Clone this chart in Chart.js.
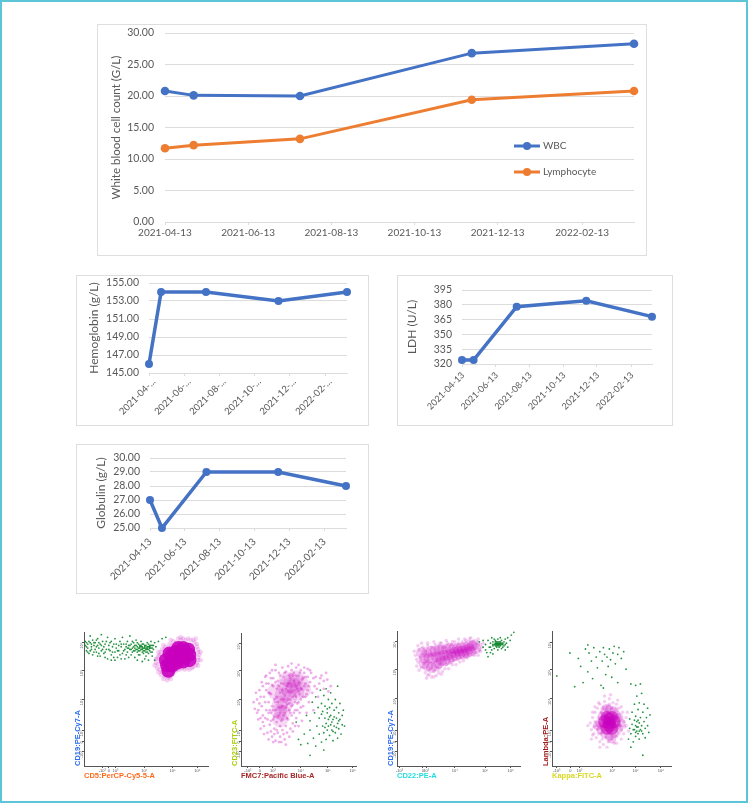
<!DOCTYPE html>
<html>
<head>
<meta charset="utf-8">
<title>Blood counts and flow cytometry</title>
<script src="https://cdn.jsdelivr.net/npm/chart.js@4/dist/chart.umd.min.js"></script>
<style>
  html, body { margin: 0; padding: 0; background: #fff; }
  #page { position: relative; width: 744px; height: 799px; border: 2px solid #5cc6d8; overflow: hidden; }
  .box { position: absolute; border: 1px solid #dedede; box-sizing: border-box; }
  .box canvas { display: block; filter: blur(0.35px); }
  .dot { position: absolute; }
  .dot canvas { display: block; filter: blur(0.3px); }
</style>
</head>
<body>
<div id="page"></div>
<script>
// Fechas de las visitas y ejes
const visitDates = ['2021-04-13', '2021-05-04', '2021-07-21', '2021-11-24', '2022-03-23'];
const dateTicks = ['2021-04-13', '2021-06-13', '2021-08-13', '2021-10-13', '2021-12-13', '2022-02-13'];

const wbcValues = [20.8, 20.1, 20.0, 26.8, 28.3];
const lymphocyteValues = [11.7, 12.2, 13.2, 19.4, 20.8];
const countTicks = [0, 5, 10, 15, 20, 25, 30];

const hemoglobinValues = [146, 154, 154, 153, 154];
const hemoglobinTicks = [145, 147, 149, 151, 153, 155];

const ldhValues = [324, 324, 378, 384, 368];
const ldhTicks = [320, 335, 350, 365, 380, 395];

const globulinValues = [27, 25, 29, 29, 28];
const globulinTicks = [25, 26, 27, 28, 29, 30];

// Citometria: puntos leidos a ojo sobre cada panel (0-100 en cada eje)
const cytoTickLabels = ['-10³', '0', '10³', '10⁴', '10⁵', '10⁶'];
const cytoYTicks = [11, 18.5, 26.5, 50, 71.5, 92];
const plotAXTicks = [14.7, 20, 25.4, 48.7, 71.4, 91.4];
const plotBXTicks = [6, 16.4, 27.8, 52, 75.6, 97];
const plotCXTicks = [2, 21, 23.8, 47, 71.6, 92.4];
const plotDXTicks = [4, 15.3, 23, 50.5, 70, 91];

const plotAGreen = [[1,90],[2,86],[1,93],[3,91],[4,84],[3,88],[5,92],[6,89],[5,86],[7,94],[7,83],[8,90],[9,87],[9,92],[10,85],[11,90],[11,95],[12,88],[13,82],[13,91],[14,86],[15,93],[16,89],[16,84],[17,91],[18,87],[19,96],[19,80],[20,90],[21,86],[22,93],[22,83],[23,89],[24,91],[25,85],[25,95],[26,88],[27,81],[28,90],[28,86],[29,93],[30,89],[31,84],[31,96],[32,91],[33,87],[33,80],[34,89],[35,85],[35,93],[36,90],[37,87],[37,97],[38,83],[38,91],[39,88],[40,86],[40,92],[41,90],[41,81],[42,87],[42,94],[43,89],[43,85],[44,91],[44,88],[45,83],[45,90],[46,87],[46,93],[47,85],[47,89],[48,91],[48,86],[49,88],[49,80],[50,90],[50,85],[51,87],[51,92],[52,89],[52,84],[53,86],[53,90],[54,88],[54,93],[55,85],[55,90],[56,87],[57,92],[58,89],[57,79],[60,93],[63,95],[66,96],[47,78],[52,79],[5,97],[14,98],[25,79],[40,89],[42,90],[44,86],[45,88],[46,89],[47,87],[48,88],[49,90],[50,87],[51,89],[52,87],[53,88],[54,90],[38,87],[36,88],[34,91],
  [2,89],[2,92],[3,85],[4,93],[6,91],[6,87],[8,85],[8,92],[10,89],[10,94],[12,84],[12,92],[14,90],[15,87],[17,85],[18,93],[20,87],[21,92],[23,85],[24,81],[26,91],[27,86],[29,83],[30,91],[32,86],[34,83],[35,88],[37,90],[39,85],[39,93],[41,86],[43,92],[44,83],[45,86],[46,90],[47,91],[48,84],[49,86],[50,88],[51,85],[52,91],[53,88],[54,85],[55,88],[56,90],[41,88],[43,87],[45,89],[47,88],[49,89],[51,88],[53,89],[11,82],[17,81],[22,79],[30,80],[36,81],[43,79],[50,82],[55,82]];
const plotACore = [[67,75],[66,79],[69,84],[72,79],[71,75],[75,80],[74,85],[76,88],[80,88],[84,87],[85,83],[85,79],[80,78],[80,83],[75,77],[68,71],[71,83]];
const plotAHalo = [[58,77],[59,73],[60,70],[62,68],[65,67],[68,66],[71,68],[72,71],[75,72],[79,73],[83,73],[87,73],[90,75],[92,79],[93,83],[92,87],[91,91],[88,94],[84,95],[80,95],[76,95],[72,93],[69,91],[66,89],[63,87],[61,83],[59,80],[57,75],[67,64],[92,75],[94,85],[60,85],
  [58,80],[60,76],[61,72],[63,70],[66,68],[69,67],[72,69],[74,71],[77,72],[81,72],[85,72],[88,74],[91,77],[92,81],[92,85],[91,89],[89,92],[86,94],[82,94],[78,94],[74,92],[71,90],[68,88],[65,87],[62,85],[60,82],[64,65],[70,65],[94,79],[90,95],[78,96],[70,94],[64,90]];

const plotBGreen = [[48,33],[50,20],[52,16],[55,24],[57,38],[58,17],[60,27],[60,34],[62,48],[63,21],[64,40],[65,15],[65,52],[66,30],[67,44],[68,24],[68,36],[69,57],[70,18],[70,47],[71,30],[71,41],[72,53],[72,25],[73,36],[73,45],[74,20],[74,32],[74,58],[75,40],[75,27],[76,50],[76,35],[77,23],[77,44],[78,31],[78,38],[78,55],[79,27],[79,47],[80,35],[80,19],[81,42],[81,30],[82,50],[82,25],[83,36],[83,44],[84,32],[84,21],[85,40],[85,28],[86,47],[86,35],[87,24],[88,38],[88,31],[89,42],[84,60],[90,30],[72,12],[60,8],[75,43],[77,37],[79,33],[81,37],[83,29],[85,34],[73,29],[76,30],[80,26],[70,39]];
const plotBCore = [[42,57],[38,60],[46,60],[36,53],[42,52],[48,55],[52,62],[44,64],[34,47],[38,46],[33,41],[36,40],[30,56],[54,57],[40,65],[48,66],[34,35]];
const plotBHalo = [[12,43],[14,50],[15,35],[16,57],[17,28],[18,45],[18,63],[19,38],[20,52],[20,30],[21,67],[22,42],[22,57],[23,25],[23,35],[24,48],[24,62],[25,31],[25,70],[26,40],[26,54],[27,22],[27,45],[28,35],[28,60],[28,66],[29,28],[29,50],[30,19],[30,42],[30,72],[31,33],[31,58],[32,25],[32,48],[32,64],[33,38],[33,70],[34,22],[34,30],[34,55],[35,44],[35,62],[36,27],[36,35],[36,74],[37,50],[37,67],[38,20],[38,40],[39,30],[39,58],[39,71],[40,25],[40,46],[41,35],[41,62],[41,75],[42,42],[42,68],[43,28],[43,50],[44,38],[44,56],[44,72],[45,32],[45,46],[46,64],[46,70],[47,42],[47,53],[48,36],[48,60],[48,74],[49,47],[50,30],[50,56],[50,68],[51,40],[51,63],[52,50],[52,72],[53,34],[53,58],[54,45],[54,66],[55,70],[56,52],[56,62],[57,40],[58,57],[58,67],[59,48],[60,63],[61,70],[62,55],[63,42],[64,60],[65,67],[67,52],[68,62],[70,68],[72,58],[75,65],[78,60],
  [14,40],[16,47],[19,33],[21,48],[22,62],[24,40],[25,55],[26,34],[27,61],[28,42],[29,37],[30,48],[30,63],[31,27],[31,52],[32,37],[33,44],[33,60],[34,40],[34,68],[35,34],[35,50],[36,57],[36,45],[37,38],[37,62],[38,53],[38,70],[39,44],[40,60],[40,36],[41,50],[41,56],[42,47],[42,62],[43,40],[43,55],[43,66],[44,45],[44,60],[45,52],[45,68],[46,40],[46,57],[47,48],[47,62],[48,52],[48,68],[49,42],[49,58],[50,48],[50,62],[51,54],[51,70],[52,44],[52,58],[53,65],[54,52],[55,60],[56,67],[57,54],[59,60],
  [11,48],[13,55],[15,42],[17,36],[17,52],[19,60],[20,24],[21,36],[22,68],[24,20],[24,55],[25,42],[26,26],[26,66],[27,72],[28,18],[29,24],[30,76],[33,18],[35,18],[37,24],[39,16],[42,22],[45,26],[47,30],[60,72],[63,66],[66,58],[69,66],[72,64],[74,70],[76,56],[55,74],[58,73],[50,76],[44,77]];

const plotCGreen = [[70,93],[72,90],[72,86],[74,93],[75,88],[76,84],[76,91],[77,95],[78,89],[78,92],[79,87],[79,94],[80,91],[80,89],[80,93],[81,90],[81,88],[81,92],[82,91],[82,89],[82,86],[82,94],[83,90],[83,92],[83,88],[84,91],[84,89],[84,95],[85,90],[85,87],[85,93],[86,91],[86,88],[87,92],[87,89],[88,94],[88,86],[89,91],[90,95],[90,88],[92,93],[93,97],[95,99],[78,83],[74,81],[67,92],[81,91],[82,90],[83,91],[82,92],[81,89],[84,90],[80,90],[83,89],[82,90.5],[81,90.5],[83,90.5],[84,92],[80,92],[79,90],[85,91],[78,90],[86,90],[76,88],[88,90],[70,88],[73,84],[77,86]];
const plotCCore = [[20,84],[24,84],[28,85],[31,85],[34,86],[37,86],[40,86.5],[43,87],[46,87],[49,87],[52,87.5],[55,88],[58,89],[61,89],[63,90],[22,76],[25,74],[28,73],[32,74],[34,76],[36,78],[39,78],[42,79],[45,81],[48,82],[51,83],[54,83],[57,84],[60,85],[64,87],[22,80],[26,80],[29,80],[32,81],[35,81],[38,82],[41,82],[44,83],[47,84],[50,85],[53,85],[56,86],[59,87]];
const plotCHalo = [[15,82],[17,77],[18,86],[19,80],[20,73],[21,88],[22,76],[23,69],[23,85],[25,89],[26,68],[27,72],[28,66],[28,88],[30,70],[31,90],[32,67],[33,73],[34,89],[35,76],[36,91],[37,70],[38,88],[40,75],[41,91],[43,77],[44,90],[46,78],[47,92],[49,79],[50,91],[52,80],[53,92],[55,81],[56,93],[58,82],[59,94],[61,83],[62,92],[64,84],[65,91],[67,86],[68,90],[69,88],[66,82],[16,74],[14,85],[24,65],[30,66],[36,68],[42,72],[48,75],[54,78],[70,91],[60,95],[50,94],[40,93],[30,92],[20,91],[16,79],[18,71],[25,67],[34,69],[39,72],[45,75],[51,77],[57,80],[63,82],[68,85],[66,94],[55,94],[45,92],[35,91],[25,91],[17,89]];

const plotDGreen = [[15,84],[4,67],[19,59],[22,80],[24,74],[26,62],[28,87],[30,70],[31,84],[33,78],[34,65],[35,88],[37,81],[38,73],[40,85],[41,60],[42,78],[43,88],[44,83],[45,68],[46,81],[47,74],[48,87],[49,79],[50,66],[51,84],[52,89],[53,76],[55,83],[56,88],[58,80],[60,85],[62,72],[66,61],[70,60],[74,61],[55,62],[30,90],[43,58],[64,20],[65,28],[65,35],[66,24],[67,31],[67,40],[68,27],[68,18],[69,34],[69,46],[70,22],[70,30],[70,37],[71,26],[71,33],[71,52],[72,29],[72,24],[72,42],[73,32],[73,20],[73,47],[74,27],[74,36],[75,30],[75,54],[76,24],[76,40],[77,33],[77,46],[78,28],[78,21],[79,36],[80,43],[80,30],[81,25],[82,38],[76,8],[66,14],[69,27],[71,29],[73,26],[75,26],[70,25],[72,34]];
const plotDCore = [[48,32],[44,33],[52,33],[46,28],[50,28],[46,36],[50,36],[48,30],[48,35]];
const plotDMid = [[40,32],[41,27],[42,37],[44,24],[44,40],[48,22],[48,42],[52,24],[52,41],[56,28],[56,36],[58,32],[38,30],[46,43],[50,20],[54,38],[42,30],[54,30]];
const plotDHalo = [[32,32],[33,27],[34,36],[35,24],[36,40],[37,30],[37,21],[38,43],[38,27],[39,36],[40,18],[40,46],[41,24],[41,40],[42,20],[43,44],[43,16],[44,48],[45,21],[46,44],[47,18],[48,50],[48,46],[50,20],[50,43],[51,47],[52,17],[53,42],[54,22],[54,46],[55,38],[56,24],[56,43],[57,30],[57,36],[58,27],[59,40],[60,33],[60,24],[61,29],[62,36],[36,33],[35,29],[39,24],[53,23],[42,43],[52,40],[56,33],[30,30],[34,23],[36,44],[39,47],[44,52],[49,53],[55,49],[58,44],[62,30],[64,26],[63,40],[46,14],[40,14],[34,40],[33,20],[58,20],[54,17]];

const BLUE = '#4472c4';
const ORANGE = '#ed7d31';
const TEXT = '#595959';
const GRID = '#dcdcdc';
const GREEN_DOT = 'rgba(15,135,45,0.9)';
const page = document.getElementById('page');

function addCanvas(className, left, top, width, height) {
  const holder = document.createElement('div');
  holder.className = className;
  holder.style.cssText = `left:${left - 2}px;top:${top - 2}px;width:${width}px;height:${height}px`;
  const canvas = document.createElement('canvas');
  const border = className === 'box' ? 2 : 0;
  canvas.width = width - border;
  canvas.height = height - border;
  holder.appendChild(canvas);
  page.appendChild(holder);
  return canvas;
}

// Leyenda dentro del area de trazado, como en el original
const insideLegend = {
  id: 'insideLegend',
  afterDatasetsDraw(chart, args, opts) {
    const ctx = chart.ctx;
    chart.data.datasets.forEach((ds, i) => {
      const y = opts.y[i];
      ctx.save();
      ctx.strokeStyle = ctx.fillStyle = ds.borderColor;
      ctx.lineWidth = 3;
      ctx.beginPath();
      ctx.moveTo(opts.x, y);
      ctx.lineTo(opts.x + 26, y);
      ctx.stroke();
      ctx.beginPath();
      ctx.arc(opts.x + 13, y, 4, 0, Math.PI * 2);
      ctx.fill();
      ctx.fillStyle = TEXT;
      ctx.font = '10px Lato';
      ctx.textBaseline = 'middle';
      ctx.fillText(ds.label, opts.x + 29, y);
      ctx.restore();
    });
  }
};

// Nube difuminada sin tocar ejes ni textos
const softCloud = {
  id: 'softCloud',
  beforeDatasetsDraw(chart) {
    chart.ctx.save();
    chart.ctx.filter = 'blur(0.6px)';
  },
  afterDatasetsDraw(chart) {
    chart.ctx.restore();
  }
};

function lineChart(o) {
  const canvas = addCanvas('box', o.box[0], o.box[1], o.box[2], o.box[3]);
  const xTicks = dateTicks.map(d => Date.parse(d));
  const times = visitDates.map(d => Date.parse(d));
  new Chart(canvas, {
    type: 'line',
    plugins: o.legend ? [insideLegend] : [],
    data: {
      datasets: o.series.map(s => ({
        label: s.label,
        data: s.values.map((v, i) => ({ x: times[i], y: v })),
        borderColor: s.color,
        backgroundColor: s.color,
        borderWidth: o.stroke,
        pointRadius: o.radius,
        pointBorderWidth: 0,
        tension: 0,
        clip: false
      }))
    },
    options: {
      responsive: false,
      animation: false,
      devicePixelRatio: 1,
      layout: { padding: { top: o.plotTop, right: o.plotRight } },
      plugins: { legend: { display: false }, tooltip: { enabled: false }, insideLegend: o.legend },
      scales: {
        x: {
          type: 'linear',
          min: times[0],
          max: times[times.length - 1],
          afterBuildTicks: s => { s.ticks = xTicks.map(v => ({ value: v })); },
          afterFit: s => { s.height = o.plotBottom; s.paddingLeft = 0; s.paddingRight = 0; },
          grid: { drawOnChartArea: false, color: GRID, tickLength: 3 },
          border: { color: GRID },
          ticks: {
            autoSkip: false,
            padding: o.xPad,
            labelOffset: o.xShift,
            color: TEXT,
            font: { family: 'Lato', size: o.xFont },
            minRotation: o.rotation,
            maxRotation: o.rotation,
            callback: (v, i) => o.cut ? dateTicks[i].slice(0, 8) + '...' : dateTicks[i]
          }
        },
        y: {
          min: o.yTicks[0],
          max: o.yTicks[o.yTicks.length - 1],
          afterBuildTicks: s => { s.ticks = o.yTicks.map(v => ({ value: v })); },
          afterFit: s => { s.width = o.plotLeft; s.paddingTop = 0; s.paddingBottom = 0; },
          grid: { color: GRID, drawTicks: false },
          border: { display: false },
          ticks: {
            autoSkip: false,
            padding: o.yPad,
            color: TEXT,
            font: { family: 'Lato', size: o.yFont },
            callback: v => v.toFixed(o.decimals)
          },
          title: {
            display: true,
            text: o.title,
            color: TEXT,
            font: { family: 'Lato', size: o.titleFont },
            padding: { top: o.titlePad, bottom: 0 }
          }
        }
      }
    }
  });
}

lineChart({
  box: [97, 24, 550, 232],
  series: [
    { label: 'WBC', values: wbcValues, color: BLUE },
    { label: 'Lymphocyte', values: lymphocyteValues, color: ORANGE }
  ],
  yTicks: countTicks, decimals: 2, title: 'White blood cell count (G/L)',
  plotLeft: 67, plotTop: 8, plotRight: 12, plotBottom: 33, stroke: 3,
  radius: 4.3, rotation: 0, xShift: 0, xFont: 10, yFont: 10.5, titleFont: 11.6, titlePad: 11, xPad: 2, yPad: 11,
  legend: { x: 416, y: [121, 147] }
});
lineChart({
  box: [76, 275, 293, 151],
  series: [{ label: 'Hemoglobin', values: hemoglobinValues, color: BLUE }],
  yTicks: hemoglobinTicks, decimals: 2, title: 'Hemoglobin (g/L)',
  plotLeft: 72, plotTop: 7, plotRight: 21, plotBottom: 52, stroke: 3.5,
  radius: 4, rotation: 45, cut: true, xShift: 5, xFont: 9.5, yFont: 10.5, titleFont: 12, titlePad: 10, xPad: 0, yPad: 10
});
lineChart({
  box: [397, 275, 276, 151],
  series: [{ label: 'LDH', values: ldhValues, color: BLUE }],
  yTicks: ldhTicks, decimals: 0, title: 'LDH (U/L)',
  plotLeft: 64, plotTop: 14, plotRight: 20, plotBottom: 61, stroke: 3.5,
  radius: 4, rotation: 45, xShift: 1, xFont: 9, yFont: 10.5, titleFont: 12, titlePad: 7, xPad: 3, yPad: 10
});
lineChart({
  box: [76, 444, 293, 150],
  series: [{ label: 'Globulin', values: globulinValues, color: BLUE }],
  yTicks: globulinTicks, decimals: 2, title: 'Globulin (g/L)',
  plotLeft: 73, plotTop: 13, plotRight: 22, plotBottom: 65, stroke: 3.5,
  radius: 4, rotation: 45, xShift: 0, xFont: 10, yFont: 10.5, titleFont: 12, titlePad: 17, xPad: 5, yPad: 10
});

function cytoChart(o) {
  const canvas = addCanvas('dot', o.left - 18, 625, o.right - o.left + 24, 160);
  new Chart(canvas, {
    type: 'scatter',
    plugins: [softCloud],
    data: {
      // el primer conjunto se pinta encima
      datasets: o.layers.map(l => ({
        data: l[0], pointRadius: l[2], pointBackgroundColor: l[1], pointBorderWidth: 0, showLine: false
      }))
    },
    options: {
      responsive: false,
      animation: false,
      devicePixelRatio: 1,
      layout: { padding: { top: 6, right: 6 } },
      plugins: { legend: { display: false }, tooltip: { enabled: false } },
      scales: {
        x: {
          type: 'linear', min: 0, max: 100,
          afterBuildTicks: s => { s.ticks = o.xTicks.map(v => ({ value: v })); },
          afterFit: s => { s.height = 19; },
          grid: { drawOnChartArea: false, color: '#555', tickLength: 2 },
          border: { color: '#555' },
          ticks: {
            autoSkip: false, maxRotation: 0, padding: 0, color: '#555', font: { size: 4 },
            callback: (v, i) => cytoTickLabels[i]
          },
          title: {
            display: true, text: o.xTitle, color: o.xColor, align: 'start',
            font: { family: 'Liberation Sans', size: 7.5, weight: 'bold' },
            padding: { top: 0, bottom: 5 }
          }
        },
        y: {
          type: 'linear', min: 0, max: 100,
          afterBuildTicks: s => { s.ticks = cytoYTicks.map(v => ({ value: v })); },
          afterFit: s => { s.width = 18; },
          grid: { drawOnChartArea: false, color: '#555', tickLength: 2 },
          border: { color: '#555' },
          ticks: {
            autoSkip: false, minRotation: 90, maxRotation: 90, padding: 0, color: '#555', font: { size: 4 },
            callback: (v, i) => cytoTickLabels[i]
          },
          title: {
            display: true, text: o.yTitle, color: o.yColor, align: 'start',
            font: { family: 'Liberation Sans', size: 7.5, weight: 'bold' },
            padding: { top: 7, bottom: 0 }
          }
        }
      }
    }
  });
}

cytoChart({
  left: 84, right: 209, xTicks: plotAXTicks, xTitle: 'CD5:PerCP-Cy5-5-A', yTitle: 'CD19:PE-Cy7-A',
  xColor: '#ff6a1a', yColor: '#2b6cf0',
  layers: [
    [plotACore, 'rgba(200,0,190,0.9)', 7],
    [plotAHalo, 'rgba(205,30,195,0.2)', 2.4],
    [plotAGreen, GREEN_DOT, 0.9]
  ]
});
cytoChart({
  left: 241, right: 358, xTicks: plotBXTicks, xTitle: 'FMC7:Pacific Blue-A', yTitle: 'CD23:FITC-A',
  xColor: '#a52828', yColor: '#a5d000',
  layers: [
    [plotBGreen, GREEN_DOT, 0.9],
    [plotBHalo, 'rgba(205,30,195,0.35)', 1.4],
    [plotBCore, 'rgba(200,20,190,0.17)', 8]
  ]
});
cytoChart({
  left: 397, right: 520, xTicks: plotCXTicks, xTitle: 'CD22:PE-A', yTitle: 'CD19:PE-Cy7-A',
  xColor: '#22dede', yColor: '#2b6cf0',
  layers: [
    [plotCGreen, GREEN_DOT, 0.9],
    [plotCCore, 'rgba(200,0,190,0.22)', 5.5],
    [plotCHalo, 'rgba(205,30,195,0.22)', 1.8]
  ]
});
cytoChart({
  left: 552, right: 672, xTicks: plotDXTicks, xTitle: 'Kappa:FITC-A', yTitle: 'Lambda:PE-A',
  xColor: '#d8d820', yColor: '#a01818',
  layers: [
    [plotDGreen, GREEN_DOT, 0.9],
    [plotDCore, 'rgba(200,0,190,0.55)', 6.5],
    [plotDMid, 'rgba(205,20,195,0.25)', 4.5],
    [plotDHalo, 'rgba(205,30,195,0.22)', 1.7]
  ]
});
</script>
</body>
</html>
